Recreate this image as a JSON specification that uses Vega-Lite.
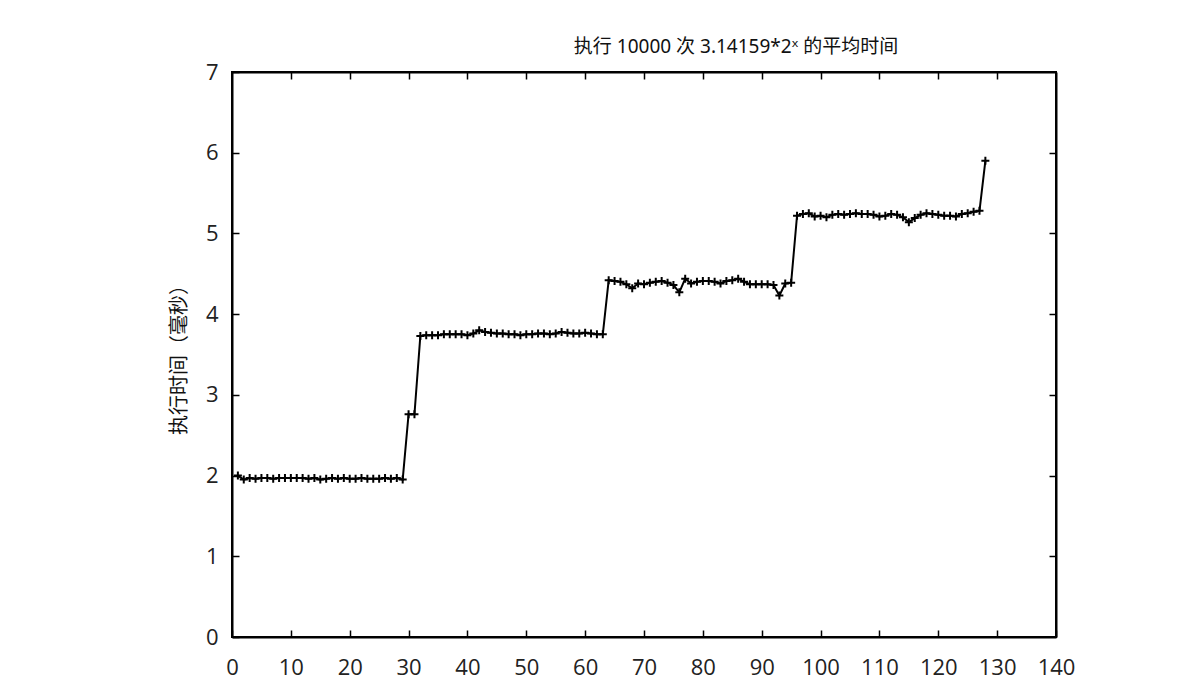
{
  "$schema": "https://vega.github.io/schema/vega-lite/v6.json",
  "autosize": "none",
  "padding": {"left": 232, "top": 72, "right": 147, "bottom": 50},
  "width": 824,
  "height": 565,
  "background": "white",
  "title": {
    "text": "执行 10000 次 3.14159*2ˣ 的平均时间",
    "font": "Noto Sans, Noto Sans CJK SC",
    "fontSize": 19,
    "fontWeight": "normal",
    "color": "#111",
    "anchor": "middle",
    "dx": 92,
    "offset": 4
  },
  "config": {
    "view": {"stroke": "black", "strokeWidth": 2},
    "axis": {
      "grid": false,
      "domainColor": "black",
      "domainWidth": 2,
      "tickColor": "black",
      "tickWidth": 1.5,
      "tickSize": -7,
      "labelFont": "Open Sans",
      "labelFontSize": 22,
      "labelColor": "#222",
      "titleFont": "Noto Sans CJK SC",
      "titleFontSize": 20,
      "titleFontWeight": "normal",
      "titleColor": "#111"
    }
  },
  "data": {
    "values": [
      {"x": 1, "t": 2.00}, {"x": 2, "t": 1.95}, {"x": 3, "t": 1.97}, {"x": 4, "t": 1.96}, {"x": 5, "t": 1.97},
      {"x": 6, "t": 1.97}, {"x": 7, "t": 1.96}, {"x": 8, "t": 1.97}, {"x": 9, "t": 1.97}, {"x": 10, "t": 1.97},
      {"x": 11, "t": 1.97}, {"x": 12, "t": 1.97}, {"x": 13, "t": 1.96}, {"x": 14, "t": 1.97}, {"x": 15, "t": 1.95},
      {"x": 16, "t": 1.96}, {"x": 17, "t": 1.97}, {"x": 18, "t": 1.96}, {"x": 19, "t": 1.97}, {"x": 20, "t": 1.96},
      {"x": 21, "t": 1.96}, {"x": 22, "t": 1.97}, {"x": 23, "t": 1.96}, {"x": 24, "t": 1.96}, {"x": 25, "t": 1.96},
      {"x": 26, "t": 1.97}, {"x": 27, "t": 1.96}, {"x": 28, "t": 1.97}, {"x": 29, "t": 1.95}, {"x": 30, "t": 2.76},
      {"x": 31, "t": 2.76}, {"x": 32, "t": 3.73}, {"x": 33, "t": 3.74}, {"x": 34, "t": 3.74}, {"x": 35, "t": 3.74},
      {"x": 36, "t": 3.75}, {"x": 37, "t": 3.75}, {"x": 38, "t": 3.75}, {"x": 39, "t": 3.75}, {"x": 40, "t": 3.74},
      {"x": 41, "t": 3.76}, {"x": 42, "t": 3.80}, {"x": 43, "t": 3.78}, {"x": 44, "t": 3.77}, {"x": 45, "t": 3.76},
      {"x": 46, "t": 3.76}, {"x": 47, "t": 3.75}, {"x": 48, "t": 3.75}, {"x": 49, "t": 3.74}, {"x": 50, "t": 3.75},
      {"x": 51, "t": 3.75}, {"x": 52, "t": 3.76}, {"x": 53, "t": 3.76}, {"x": 54, "t": 3.75}, {"x": 55, "t": 3.76},
      {"x": 56, "t": 3.78}, {"x": 57, "t": 3.77}, {"x": 58, "t": 3.76}, {"x": 59, "t": 3.76}, {"x": 60, "t": 3.77},
      {"x": 61, "t": 3.76}, {"x": 62, "t": 3.75}, {"x": 63, "t": 3.75}, {"x": 64, "t": 4.42}, {"x": 65, "t": 4.41},
      {"x": 66, "t": 4.40}, {"x": 67, "t": 4.37}, {"x": 68, "t": 4.32}, {"x": 69, "t": 4.38}, {"x": 70, "t": 4.37},
      {"x": 71, "t": 4.39}, {"x": 72, "t": 4.40}, {"x": 73, "t": 4.41}, {"x": 74, "t": 4.39}, {"x": 75, "t": 4.36},
      {"x": 76, "t": 4.27}, {"x": 77, "t": 4.44}, {"x": 78, "t": 4.38}, {"x": 79, "t": 4.40}, {"x": 80, "t": 4.41},
      {"x": 81, "t": 4.41}, {"x": 82, "t": 4.40}, {"x": 83, "t": 4.38}, {"x": 84, "t": 4.41}, {"x": 85, "t": 4.42},
      {"x": 86, "t": 4.44}, {"x": 87, "t": 4.40}, {"x": 88, "t": 4.37}, {"x": 89, "t": 4.37}, {"x": 90, "t": 4.37},
      {"x": 91, "t": 4.37}, {"x": 92, "t": 4.36}, {"x": 93, "t": 4.23}, {"x": 94, "t": 4.38}, {"x": 95, "t": 4.39},
      {"x": 96, "t": 5.22}, {"x": 97, "t": 5.24}, {"x": 98, "t": 5.25}, {"x": 99, "t": 5.21}, {"x": 100, "t": 5.22},
      {"x": 101, "t": 5.20}, {"x": 102, "t": 5.23}, {"x": 103, "t": 5.24}, {"x": 104, "t": 5.23}, {"x": 105, "t": 5.24},
      {"x": 106, "t": 5.25}, {"x": 107, "t": 5.24}, {"x": 108, "t": 5.24}, {"x": 109, "t": 5.23}, {"x": 110, "t": 5.21},
      {"x": 111, "t": 5.22}, {"x": 112, "t": 5.24}, {"x": 113, "t": 5.23}, {"x": 114, "t": 5.20}, {"x": 115, "t": 5.14},
      {"x": 116, "t": 5.19}, {"x": 117, "t": 5.23}, {"x": 118, "t": 5.25}, {"x": 119, "t": 5.24}, {"x": 120, "t": 5.23},
      {"x": 121, "t": 5.22}, {"x": 122, "t": 5.22}, {"x": 123, "t": 5.21}, {"x": 124, "t": 5.24}, {"x": 125, "t": 5.25},
      {"x": 126, "t": 5.27}, {"x": 127, "t": 5.28}, {"x": 128, "t": 5.90}
    ]
  },
  "layer": [
    {
      "mark": {"type": "line", "color": "black", "strokeWidth": 2},
      "encoding": {
        "x": {
          "field": "x", "type": "quantitative",
          "scale": {"domain": [0, 140], "nice": false, "zero": false},
          "axis": {"orient": "bottom", "title": null, "values": [0,10,20,30,40,50,60,70,80,90,100,110,120,130,140], "labelPadding": 27, "labelFlush": false}
        },
        "y": {
          "field": "t", "type": "quantitative",
          "scale": {"domain": [0, 7], "nice": false},
          "axis": {"orient": "left", "title": "执行时间（毫秒）", "values": [0,1,2,3,4,5,6,7], "labelPadding": 21, "titlePadding": 16}
        }
      }
    },
    {
      "mark": {"type": "point", "shape": "M-1,0L1,0M0,-1L0,1", "filled": false, "stroke": "black", "strokeWidth": 2, "size": 64, "opacity": 1},
      "encoding": {
        "x": {
          "field": "x", "type": "quantitative",
          "axis": {"orient": "top", "title": null, "labels": false, "values": [10,20,30,40,50,60,70,80,90,100,110,120,130]}
        },
        "y": {
          "field": "t", "type": "quantitative",
          "axis": {"orient": "right", "title": null, "labels": false, "values": [1,2,3,4,5,6]}
        }
      }
    }
  ],
  "resolve": {"axis": {"x": "independent", "y": "independent"}}
}
